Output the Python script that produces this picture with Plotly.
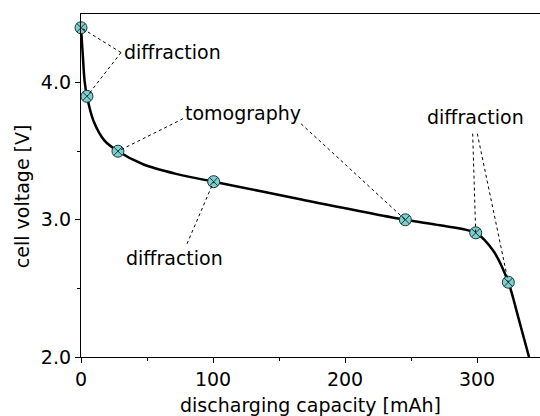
import plotly.graph_objects as go

# Discharge curve
curve_cap = [0, 1.3, 2.7, 4.5, 9.5, 17.8, 28, 47, 72, 100.5, 166, 245.7, 272, 299, 312.3, 323.7, 331.3, 339.4]
curve_v = [4.40, 4.21, 4.015, 3.90, 3.72, 3.577, 3.50, 3.405, 3.335, 3.278, 3.15, 3.00, 2.96, 2.905, 2.774, 2.545, 2.287, 2.0]

# Measurement points
pt_cap = [0, 4.5, 28, 100.5, 245.7, 299, 323.7]
pt_v = [4.40, 3.90, 3.50, 3.278, 3.00, 2.905, 2.545]

# Labels: (text, x, y, [(line origin x, origin y, point index)])
labels = [
    ("diffraction", 69.5, 4.22, [(30.3, 4.219, 0), (30.3, 4.219, 1)]),
    ("tomography", 122.5, 3.78, [(77.3, 3.737, 2), (166.7, 3.70, 4)]),
    ("diffraction", 71.2, 2.723, [(80.3, 2.825, 3)]),
    ("diffraction", 299.2, 3.752, [(296.7, 3.628, 5), (300.2, 3.628, 6)]),
]

FONT = "DejaVu Sans"
fig = go.Figure()

shapes = []
for text, tx, ty, links in labels:
    for ox, oy, idx in links:
        shapes.append(dict(type="line", xref="x", yref="y", x0=ox, y0=oy,
                           x1=pt_cap[idx], y1=pt_v[idx],
                           line=dict(color="black", width=1, dash="dot"), layer="above"))

fig.add_trace(go.Scatter(x=curve_cap, y=curve_v, mode="lines",
                         line=dict(color="black", width=2.5, shape="spline", smoothing=0.8),
                         showlegend=False, hoverinfo="skip", cliponaxis=True))

annotations = [dict(text=t, x=tx, y=ty, xref="x", yref="y", showarrow=False,
                    font=dict(family=FONT, size=19, color="black"),
                    xanchor="center", yanchor="middle") for t, tx, ty, _ in labels]
annotations.append(dict(text="cell voltage [V]", x=-0.1285, y=0.469, xref="paper", yref="paper",
                        showarrow=False, textangle=-90, xanchor="center", yanchor="middle",
                        font=dict(family=FONT, size=19, color="black")))

fig.add_trace(go.Scatter(x=pt_cap, y=pt_v, mode="markers",
                         marker=dict(symbol="circle-x", size=12, color="#7ecfcf",
                                     line=dict(color="#1a3535", width=1)),
                         showlegend=False, hoverinfo="skip", cliponaxis=False))

fig.update_layout(
    width=540, height=416,
    margin=dict(l=81, r=0, t=14, b=59),
    paper_bgcolor="white", plot_bgcolor="white",
    font=dict(family=FONT, size=19, color="black"),
    shapes=shapes,
    annotations=annotations,
    xaxis=dict(range=[0, 347.7], tickvals=[0, 100, 200, 300], ticks="outside", ticklen=5,
               tickwidth=1.2, tickcolor="black",
               minor=dict(tickvals=[50, 150, 250], ticks="outside", ticklen=3, tickcolor="black", tickwidth=1),
               showline=True, linecolor="black", linewidth=1.3, mirror=True, showgrid=False, zeroline=False,
               title=dict(text="discharging capacity [mAh]", standoff=10,
                          font=dict(family=FONT, size=19)),
               tickfont=dict(family=FONT, size=19)),
    yaxis=dict(range=[2.0, 4.5], tickvals=[2.0, 3.0, 4.0], tickformat=".1f", ticks="outside", ticklen=5,
               tickwidth=1.2, tickcolor="black",
               minor=dict(tickvals=[2.5, 3.5], ticks="outside", ticklen=3, tickcolor="black", tickwidth=1),
               showline=True, linecolor="black", linewidth=1.3, mirror=False, showgrid=False, zeroline=False,
               tickfont=dict(family=FONT, size=19)),
)

fig.write_html("out.html")
